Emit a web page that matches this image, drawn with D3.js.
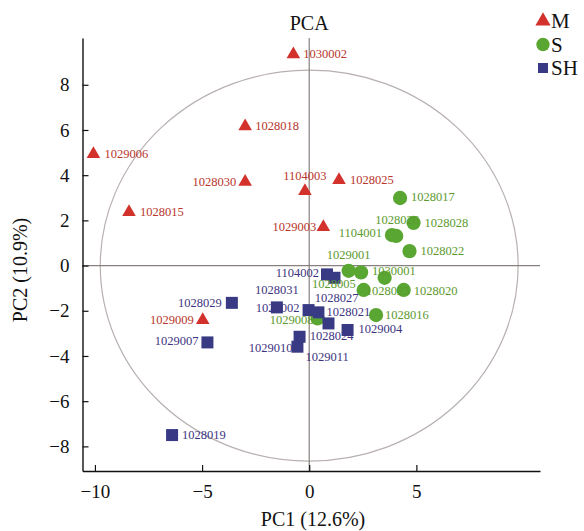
<!DOCTYPE html>
<html>
<head>
<meta charset="utf-8">
<script src="https://cdn.jsdelivr.net/npm/d3@7/dist/d3.min.js"></script>
<style>
  html, body { margin: 0; padding: 0; background: #fff; }
  svg { display: block; }
  text { font-family: "Liberation Serif", "DejaVu Serif", serif; }
</style>
</head>
<body>
<svg id="chart" width="584" height="531"></svg>
<script>
// Sample scores on the first two principal components, by group
const groups = ["M", "S", "SH"];

const mIds = ["1030002", "1028018", "1029006", "1028030", "1104003", "1028025", "1028015", "1029003", "1029009"];
const mPC1 = [-0.74, -2.99, -10.07, -2.99, -0.20, 1.39, -8.41, 0.66, -4.97];
const mPC2 = [9.35, 6.16, 4.93, 3.71, 3.30, 3.78, 2.37, 1.70, -2.41];

const sIds = ["1028017", "1028028", "1104001", "1028026", "1028022", "1029001", "1030001", "1028023", "1028005", "1028020", "1028016", "1029008"];
const sPC1 = [4.24, 4.87, 3.86, 4.06, 4.68, 1.84, 2.42, 3.52, 2.54, 4.41, 3.12, 0.39];
const sPC2 = [2.99, 1.89, 1.35, 1.31, 0.64, -0.23, -0.30, -0.54, -1.08, -1.08, -2.19, -2.34];

const shIds = ["1104002", "1028027", "1028029", "1028031", "1029002", "1028021", "1028024", "1029004", "1029010", "1029011", "1029007", "1028019"];
const shPC1 = [0.83, 1.18, -3.61, -1.51, -0.03, 0.43, 0.90, 1.79, -0.45, -0.55, -4.75, -6.40];
const shPC2 = [-0.39, -0.54, -1.65, -1.85, -1.97, -2.07, -2.56, -2.85, -3.15, -3.59, -3.40, -7.50];

const xTicks = [-10, -5, 0, 5];
const yTicks = [-8, -6, -4, -2, 0, 2, 4, 6, 8];

// Radii of the reference ellipse, in PC units
const ellipseRx = 9.75;
const ellipseRy = 8.65;

// Label placement (pixel offset from the marker, text anchor)
const labelPlace = {
  "1030002": [10, 0, "start"], "1028018": [10, 0, "start"], "1029006": [11, 0, "start"],
  "1028030": [-9, 0, "end"], "1104003": [0, -15, "middle"], "1028025": [11, 0, "start"],
  "1028015": [11, 0, "start"], "1029003": [-7, 0, "end"], "1029009": [-9, 0, "end"],
  "1028017": [11, -1, "start"], "1028028": [11, 0, "start"], "1104001": [-10, -2, "end"],
  "1028026": [1, -16, "middle"], "1028022": [11, 0, "start"], "1029001": [0, -16, "middle"],
  "1030001": [11, -1, "start"], "1028023": [-19, 13, "start"], "1028005": [-8, -6, "end"],
  "1028020": [10, 1, "start"], "1028016": [9, 0, "start"], "1029008": [-4, 2, "end"],
  "1104002": [-8, -1, "end"], "1028027": [2, 20, "middle"], "1028029": [-10, 0, "end"],
  "1028031": [0, -17, "middle"], "1029002": [-9, -2, "end"], "1028021": [8, 0, "start"],
  "1028024": [3, 13, "middle"], "1029004": [11, -1, "start"], "1029010": [-7, 11, "end"],
  "1029011": [8, 10, "start"], "1029007": [-9, -1, "end"], "1028019": [10, 0, "start"]
};

const style = {
  M:  { fill: "#d2322b", text: "#b8352c", symbol: d3.symbolTriangle, size: 80 },
  S:  { fill: "#5aa632", text: "#5b9a2e", symbol: d3.symbolCircle,   size: 160 },
  SH: { fill: "#393a84", text: "#3d3480", symbol: d3.symbolSquare,   size: 144 }
};

const pack = (ids, xs, ys, g) => ids.map((id, i) => ({ id, pc1: xs[i], pc2: ys[i], g }));
const points = {
  M: pack(mIds, mPC1, mPC2, "M"),
  S: pack(sIds, sPC1, sPC2, "S"),
  SH: pack(shIds, shPC1, shPC2, "SH")
};

const svg = d3.select("#chart");
const plotL = 82.5, plotR = 540, plotT = 38, plotB = 471;

const x = d3.scaleLinear().domain([-10.58, 10.77]).range([plotL, plotR]);
const y = d3.scaleLinear().domain([-9.09, 10.07]).range([plotB, plotT]);

// Reference ellipse
svg.append("ellipse")
  .attr("cx", x(0)).attr("cy", y(0))
  .attr("rx", x(ellipseRx) - x(0)).attr("ry", y(0) - y(ellipseRy))
  .attr("fill", "none").attr("stroke", "#b8b0b0").attr("stroke-width", 1.2);

// Zero lines
svg.append("line")
  .attr("x1", x(0)).attr("x2", x(0)).attr("y1", plotT).attr("y2", plotB)
  .attr("stroke", "#8a7f7f").attr("stroke-width", 1.2);
svg.append("line")
  .attr("x1", plotL).attr("x2", plotR).attr("y1", y(0)).attr("y2", y(0))
  .attr("stroke", "#8a7f7f").attr("stroke-width", 1.2);

// Axes with inward ticks
const xAxis = svg.append("g").attr("transform", `translate(0,${plotB})`)
  .call(d3.axisBottom(x).tickValues(xTicks).tickSizeInner(-6).tickSizeOuter(0).tickPadding(14));
const yAxis = svg.append("g").attr("transform", `translate(${plotL},0)`)
  .call(d3.axisLeft(y).tickValues(yTicks).tickSizeInner(-6).tickSizeOuter(0).tickPadding(13));
[xAxis, yAxis].forEach(a => {
  a.select(".domain").attr("stroke", "#111").attr("stroke-width", 1.4);
  a.selectAll(".tick line").attr("stroke", "#111").attr("stroke-width", 1.2);
  a.selectAll(".tick text").attr("font-family", "Liberation Serif, serif")
    .attr("font-size", 19).attr("fill", "#111");
});

// Titles
svg.append("text").attr("x", x(0)).attr("y", 30).attr("text-anchor", "middle")
  .attr("font-size", 20).attr("fill", "#111").text("PCA");
svg.append("text").attr("x", 313).attr("y", 526).attr("text-anchor", "middle")
  .attr("font-size", 20).attr("fill", "#111").text("PC1 (12.6%)");
svg.append("text").attr("transform", "translate(27,270) rotate(-90)").attr("text-anchor", "middle")
  .attr("font-size", 20).attr("fill", "#111").text("PC2 (10.9%)");

// Markers
const markerLayer = svg.append("g");
["M", "S", "SH"].forEach(g => {
  const st = style[g];
  markerLayer.selectAll(null).data(points[g]).join("path")
    .attr("transform", d => `translate(${x(d.pc1)},${y(d.pc2)})`)
    .attr("d", d3.symbol().type(st.symbol).size(st.size))
    .attr("fill", st.fill);
});

// Sample labels
const labelLayer = svg.append("g");
["M", "SH", "S"].forEach(g => {
  const st = style[g];
  labelLayer.selectAll(null).data(points[g]).join("text")
    .attr("x", d => x(d.pc1) + labelPlace[d.id][0])
    .attr("y", d => y(d.pc2) + labelPlace[d.id][1])
    .attr("text-anchor", d => labelPlace[d.id][2])
    .attr("dominant-baseline", "central")
    .attr("font-size", 12.5).attr("fill", st.text)
    .text(d => d.id);
});

// Legend
const legend = svg.append("g");
groups.forEach((g, i) => {
  const st = style[g];
  const ly = 21 + i * 23.5;
  legend.append("path")
    .attr("transform", `translate(543,${ly})`)
    .attr("d", d3.symbol().type(st.symbol).size(g === "S" ? 140 : 100))
    .attr("fill", st.fill);
  legend.append("text").attr("x", 551).attr("y", ly).attr("dominant-baseline", "central")
    .attr("font-size", 21).attr("fill", "#111").text(g);
});
</script>
</body>
</html>
